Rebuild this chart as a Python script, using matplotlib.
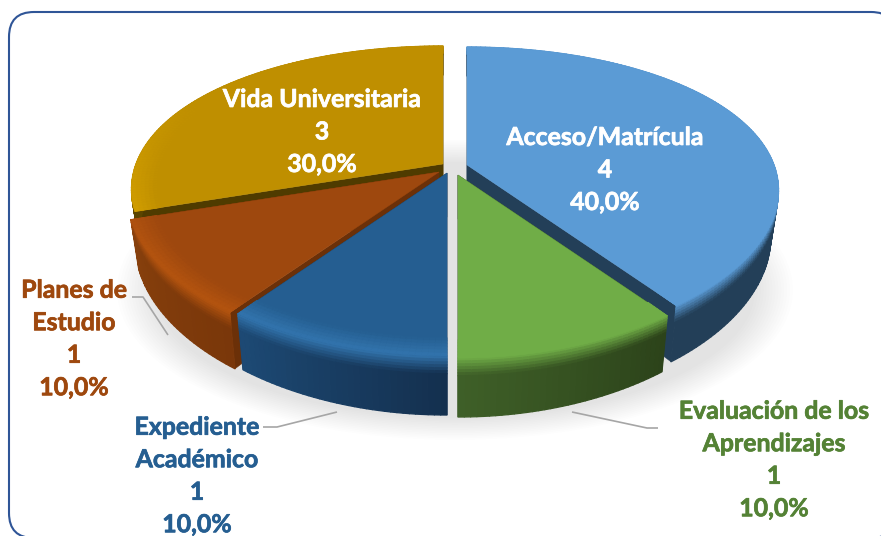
import numpy as np
import matplotlib
matplotlib.use("Agg")
import matplotlib.pyplot as plt
from matplotlib.collections import PolyCollection
from matplotlib.patches import FancyBboxPatch, Polygon, Ellipse
import matplotlib.patheffects as pe

# ---- data (clockwise from 12 o'clock)
categories = ["Acceso/Matrícula", "Evaluación de los\nAprendizajes", "Expediente\nAcadémico",
              "Planes de\nEstudio", "Vida Universitaria"]
values = [4, 1, 1, 1, 3]

# ---- style
apexes = [(467, 165), (458, 175), (447, 173), (439, 172), (443, 164)]
top_cols = ["#5b9bd5", "#70ad47", "#255e91", "#9e480e", "#bf8f00"]
hl_cols = ["#5b9bd5", "#70ad47", "#3274ad", "#b4540f", "#d6a200"]
wall_l = ["#233f58", "#3f6028", "#1d4a75", "#87400c", "#5a4400"]
wall_r = ["#233f58", "#2c431a", "#14304f", "#7a370a", "#5a4400"]
cut_cols = ["#233f58", "#2c431a", "#14304f", "#6b3008", "#4f3b00"]
txt_cols = ["white", "#548235", "#255e91", "#9e480e", "white"]
label_pos = [(605, 170), (774, 460), (197, 476), (74, 339), (322, 132)]
draw_order = [4, 0, 3, 2, 1]
RX, RY, QX, QY = 307.0, 143.5, 0.17, 0.216


def hex2rgb(c):
    return np.array(matplotlib.colors.to_rgb(c))


def proj(apex, deg, r=1.0, t=0.0):
    th = np.radians(deg)
    u, v = r * np.sin(th), r * np.cos(th)
    sx, sy = 1 / (1 + QX * v), 1 / (1 + QY * v)
    h = 44 - 15 * v
    return np.column_stack([apex[0] + RX * u * sx * (1 - 0.025 * t) * np.ones_like(th),
                            apex[1] - RY * v * sy + t * h])


fig = plt.figure(figsize=(8.81, 5.36), dpi=100)
ax = fig.add_axes([0, 0, 1, 1])
ax.set_xlim(0, 881)
ax.set_ylim(536, 0)
ax.axis("off")
plt.rcParams["font.family"] = ["Lato", "DejaVu Sans"]

ax.add_patch(FancyBboxPatch((34, 37), 837, 476, boxstyle="round,pad=25,rounding_size=25",
                            fc="white", ec="#2f5597", lw=1.5, zorder=0))

# soft shadow
for i in range(14):
    f = i / 13
    ax.add_patch(Ellipse((455, 290), 2 * (338 - 38 * f), 2 * (150 - 22 * f),
                         fc="black", ec="none", alpha=0.0085, zorder=1))

fr = np.array(values, float) / sum(values)
starts = np.concatenate([[0], np.cumsum(fr)[:-1]]) * 360
ends = np.cumsum(fr) * 360

z = 2
for i in draw_order:
    a0, a1 = starts[i], ends[i]
    apex = apexes[i]
    th = np.linspace(a0, a1, int(a1 - a0) + 1)
    top, hl = hex2rgb(top_cols[i]), hex2rgb(hl_cols[i])
    wl, wr = hex2rgb(wall_l[i]), hex2rgb(wall_r[i])
    c_cut = cut_cols[i]
    # cut faces
    for edge in (a0, a1):
        quad = np.vstack([proj(apex, np.array([edge]), 1, 0), proj(apex, np.array([edge]), 1, 1),
                          proj(apex, np.array([edge]), 0, 1), proj(apex, np.array([edge]), 0, 0)])
        ax.add_patch(Polygon(quad, closed=True, fc=c_cut, ec=c_cut, lw=0.3, zorder=z))
    z += 1
    # rim wall: vertical blend from highlight into the wall colour, then body
    ts = [0, .05, .1, .15, .2, .25, .3, 1]
    polys, cols = [], []
    for j in range(len(th) - 1):
        seg = th[j:j + 2]
        tm = (th[j] - a0) / (a1 - a0)
        w = wr * (1 - tm) + wl * tm
        vv = np.cos(np.radians(seg.mean()))
        h_here = top + (hl - top) * np.clip(0.5 - vv, 0, 1)
        for k in range(len(ts) - 1):
            p = np.vstack([proj(apex, seg, 1, ts[k]), proj(apex, seg[::-1], 1, ts[k + 1])])
            mix = min(1, (ts[k] + ts[k + 1]) / 2 / 0.3)
            polys.append(p)
            cols.append(h_here * (1 - mix) + w * mix)
    ax.add_collection(PolyCollection(polys, facecolors=cols, edgecolors=cols, linewidths=0.9, zorder=z))
    z += 1
    # top face
    outline = np.vstack([proj(apex, np.array([a0]), 0, 0), proj(apex, th, 1, 0)])
    ax.add_patch(Polygon(outline, closed=True, fc=top_cols[i], ec=top_cols[i], lw=0.3, zorder=z))
    z += 1
    # bevel on the top face
    rs = np.linspace(0.92, 1.0, 7)
    polys, cols = [], []
    for j in range(len(th) - 1):
        seg = th[j:j + 2]
        vv = np.cos(np.radians(seg.mean()))
        h_here = top + (hl - top) * np.clip(0.5 - vv, 0, 1)
        for k in range(len(rs) - 1):
            p = np.vstack([proj(apex, seg, rs[k], 0), proj(apex, seg[::-1], rs[k + 1], 0)])
            mix = (k + .5) / (len(rs) - 1)
            polys.append(p)
            cols.append(top * (1 - mix) + h_here * mix)
    ax.add_collection(PolyCollection(polys, facecolors=cols, edgecolors=cols, linewidths=0.6, zorder=z))
    z += 1

# leader lines
leaders = [([132, 143, 168], [297, 297, 335]),
           ([263, 277, 337], [427, 427, 412]),
           ([658, 647, 572], [428, 428, 412])]
for xs, ys in leaders:
    ax.plot(xs, ys, color="#a6a6a6", lw=1.2, zorder=z, solid_capstyle="butt")

# labels
for name, val, f, pos, col in zip(categories, values, fr, label_pos, txt_cols):
    s = f"{name}\n{val}\n{f * 100:.1f}%".replace(".", ",")
    ax.text(pos[0], pos[1], s, ha="center", va="center", multialignment="center", color=col,
            fontsize=17.9, fontweight="bold", linespacing=1.5, zorder=z + 1,
            family=["Lato", "DejaVu Sans"],
            path_effects=[pe.withStroke(linewidth=0.5, foreground=col)])

fig.savefig("out.png", dpi=100)
